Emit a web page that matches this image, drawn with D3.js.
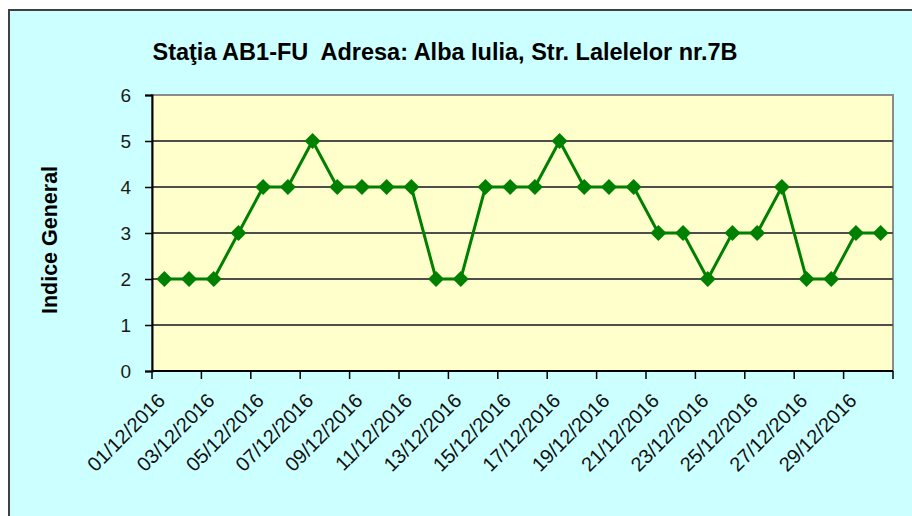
<!DOCTYPE html>
<html>
<head>
<meta charset="utf-8">
<script src="https://cdn.jsdelivr.net/npm/d3@7"></script>
<style>
html,body{margin:0;padding:0;background:#fff;}
svg{display:block;}
text{white-space:pre;}
</style>
</head>
<body>
<svg id="chart" width="912" height="516"></svg>
<script>
const title = "Staţia AB1-FU  Adresa: Alba Iulia, Str. Lalelelor nr.7B";
const yTitle = "Indice General";
const dates = ["01/12/2016","02/12/2016","03/12/2016","04/12/2016","05/12/2016","06/12/2016","07/12/2016","08/12/2016","09/12/2016","10/12/2016",
"11/12/2016","12/12/2016","13/12/2016","14/12/2016","15/12/2016","16/12/2016","17/12/2016","18/12/2016","19/12/2016","20/12/2016",
"21/12/2016","22/12/2016","23/12/2016","24/12/2016","25/12/2016","26/12/2016","27/12/2016","28/12/2016","29/12/2016","30/12/2016"];
const values = [2,2,2,3,4,4,5,4,4,4, 4,2,2,4,4,4,5,4,4,4, 3,3,2,3,3,4,2,2,3,3];
const yTicks = [0,1,2,3,4,5,6];

const svg = d3.select("#chart");
const plot = {l:152, r:893, t:95, b:371};
const font = "'Liberation Sans', Arial, sans-serif";

// outer chart area
svg.append("rect").attr("x",0).attr("y",0).attr("width",912).attr("height",516).attr("fill","#ffffff");
svg.append("rect").attr("x",9).attr("y",10).attr("width",930).attr("height",530)
  .attr("fill","#CCFFFF").attr("stroke","#404040").attr("stroke-width",2);

const x = d3.scaleBand().domain(dates).range([plot.l, plot.r]).paddingInner(0).paddingOuter(0);
const y = d3.scaleLinear().domain([0,6]).range([plot.b, plot.t]);

// plot area
svg.append("rect").attr("x",plot.l).attr("y",plot.t).attr("width",plot.r-plot.l).attr("height",plot.b-plot.t)
  .attr("fill","#FFFFCC").attr("stroke","#8c8c8c").attr("stroke-width",2);

// gridlines
svg.append("g").selectAll("line").data(yTicks.filter(d=>d>0 && d<6)).join("line")
  .attr("x1",plot.l).attr("x2",plot.r).attr("y1",d=>y(d)).attr("y2",d=>y(d))
  .attr("stroke","#4d4d4d").attr("stroke-width",2);

// y axis
const yAxis = d3.axisLeft(y).tickValues(yTicks).tickSize(7).tickPadding(14).tickFormat(d3.format("d"));
const gy = svg.append("g").attr("transform",`translate(${plot.l},0)`).call(yAxis);
gy.select(".domain").attr("stroke","#000").attr("stroke-width",2);
gy.selectAll(".tick line").attr("stroke","#000").attr("stroke-width",1.5);
gy.selectAll(".tick text").attr("font-family",font).attr("font-size",19).attr("fill","#1a1a1a");

// x axis: ticks every 2 categories at band boundaries
const labelled = dates.filter((d,i)=>i%2===0);
const boundaries = labelled.map(d=>x(d)).concat([plot.r]);
const gx = svg.append("g");
gx.append("line").attr("x1",plot.l).attr("x2",plot.r).attr("y1",plot.b).attr("y2",plot.b)
  .attr("stroke","#000").attr("stroke-width",2);
gx.selectAll("line.tk").data(boundaries).join("line").attr("class","tk")
  .attr("x1",d=>d).attr("x2",d=>d).attr("y1",plot.b).attr("y2",plot.b+8)
  .attr("stroke","#000").attr("stroke-width",1.5);
gx.selectAll("text").data(labelled).join("text")
  .attr("transform",d=>`translate(${x(d)+x.bandwidth()/2+2},${plot.b+31}) rotate(-45)`)
  .attr("text-anchor","end")
  .attr("font-family",font).attr("font-size",20).attr("fill","#111")
  .text(d=>d);

// line + markers
const line = d3.line().x((d,i)=>x(dates[i])+x.bandwidth()/2).y(d=>y(d));
svg.append("path").datum(values).attr("d",line).attr("fill","none").attr("stroke","#008000").attr("stroke-width",3);
svg.append("g").selectAll("path").data(values).join("path")
  .attr("transform",(d,i)=>`translate(${x(dates[i])+x.bandwidth()/2},${y(d)})`)
  .attr("d","M0,-8L8,0L0,8L-8,0Z").attr("fill","#008000");

// titles
svg.append("text").attr("x",445).attr("y",60).attr("text-anchor","middle")
  .attr("font-family",font).attr("font-size",23.5).attr("font-weight","bold").attr("fill","#000")
  .text(title);
svg.append("text").attr("transform","translate(57,240) rotate(-90)").attr("text-anchor","middle")
  .attr("font-family",font).attr("font-size",21.5).attr("font-weight","bold").attr("fill","#000")
  .text(yTitle);
</script>
</body>
</html>
